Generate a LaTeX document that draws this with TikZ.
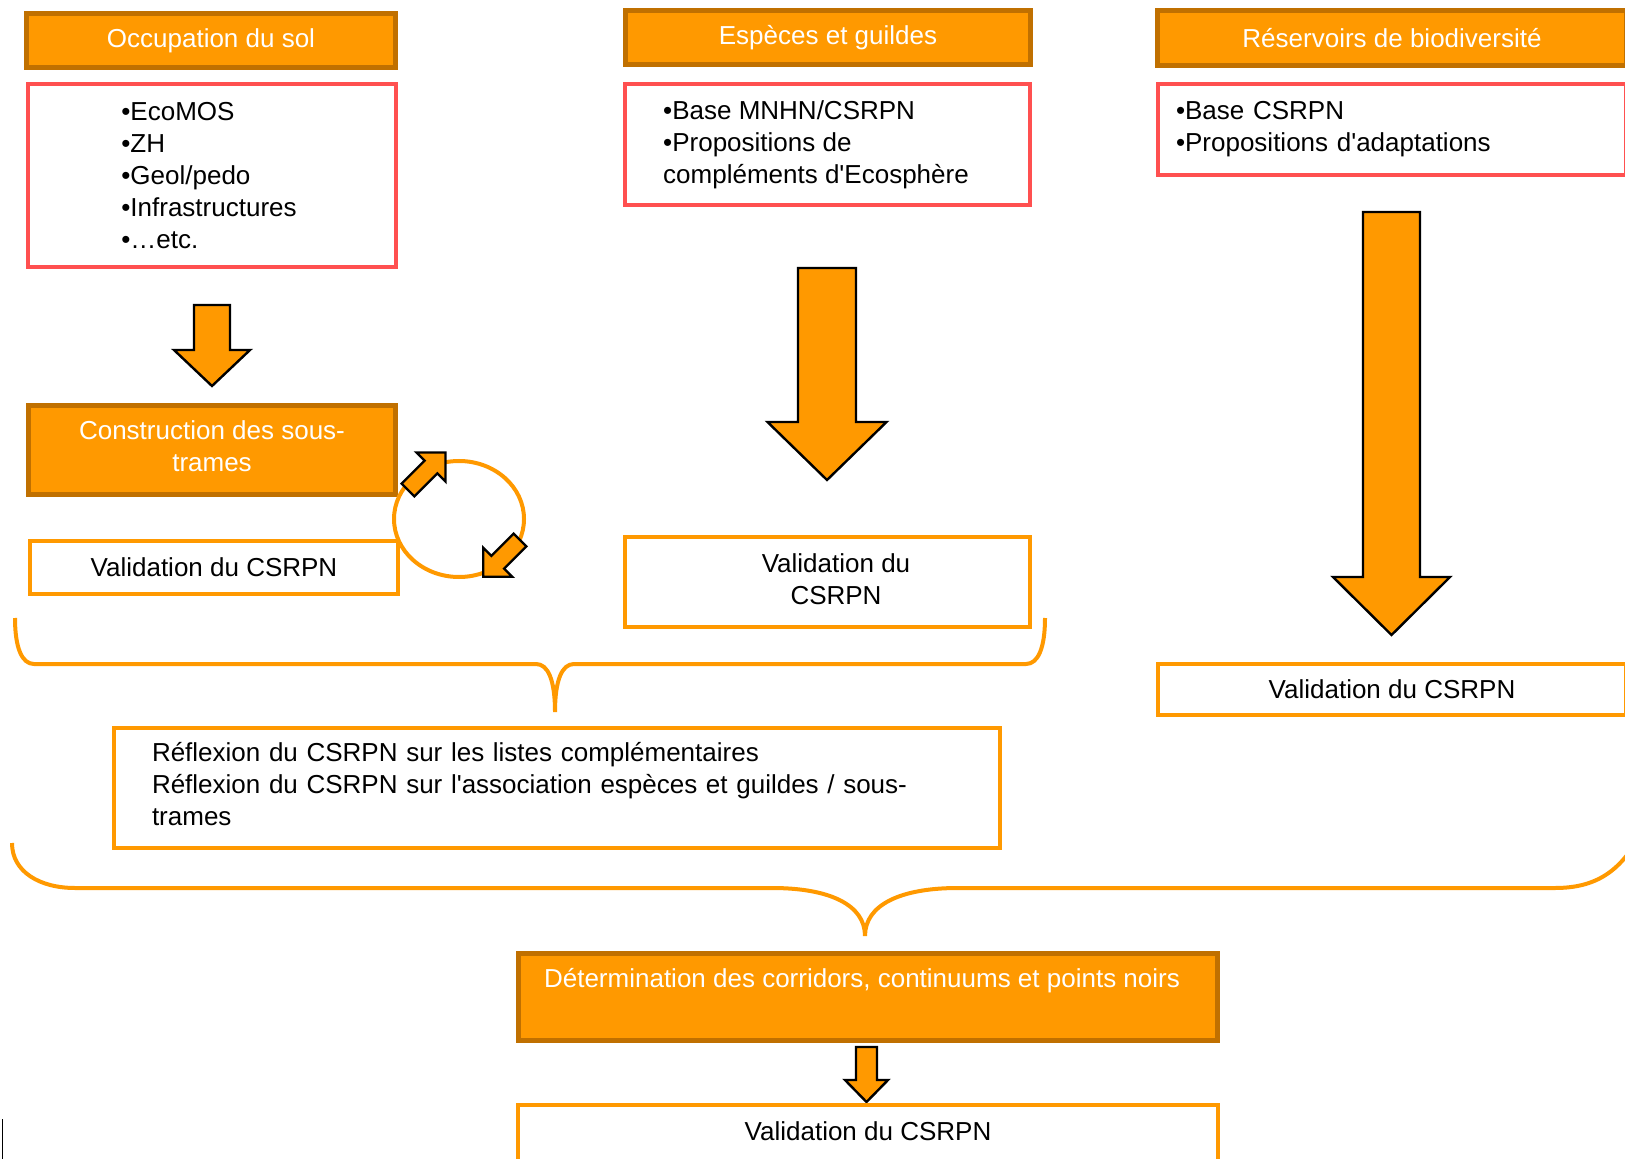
\documentclass[tikz,border=0pt]{standalone}
\usepackage{fontspec}
\setmainfont{Liberation Sans}
\definecolor{orng}{RGB}{255,153,0}
\definecolor{brwn}{RGB}{192,112,0}
\definecolor{rouge}{RGB}{255,80,80}
% block arrow: tail, angle, length, half shaft, half head, head length
\newcommand{\blockarrow}[6]{%
  \draw[fleche, shift={#1}, rotate=#2] (0,-#4) -- ({#3-#6},-#4) -- ({#3-#6},-#5) -- (#3,0)
    -- ({#3-#6},#5) -- ({#3-#6},#4) -- (0,#4) -- cycle;}
\newcommand{\apos}{\textquotesingle}
\begin{document}
\begin{tikzpicture}[x=0.5pt, y=-0.5pt,
    font=\fontsize{13}{16}\selectfont,
    titre/.style={draw=brwn, fill=orng, line width=2.5pt, text=white, align=center, inner sep=0pt},
    liste/.style={draw=rouge, line width=2pt, align=left, inner sep=0pt},
    valid/.style={draw=orng, line width=2pt, align=center, inner sep=0pt},
    accolade/.style={draw=orng, line width=2pt},
    fleche/.style={draw=black, fill=orng, line width=1.2pt, line join=miter}]
  \useasboundingbox (0,0) rectangle (1625,1159);
  \clip (0,0) rectangle (1625,1159);
  % Titles
  \node [titre, minimum width=184.5pt, minimum height=27pt] (occ) at (211,40.5) {Occupation du sol};
  \node [titre, minimum width=202.5pt, minimum height=27pt] (esp) at (828,37.5) {Espèces et guildes};
  \node [titre, minimum width=234.5pt, minimum height=27.5pt] (res) at (1392,38) {Réservoirs de biodiversité};
  % Lists
  \node [liste, minimum width=184pt, minimum height=91.5pt] (lst1) at (212,175.5) {};
  \node [align=left, inner sep=0pt] (lst1txt) at (209,175.5)
    {•EcoMOS\\•ZH\\•Geol/pedo\\•Infrastructures\\•…etc.};
  \node [liste, minimum width=202.5pt, minimum height=60.5pt] (lst2) at (827.5,144.5) {};
  \node [align=left, inner sep=0pt] (lst2txt) at (816,144.5)
    {•Base MNHN/CSRPN\\•Propositions de\\compléments d\apos Ecosphère};
  \node [liste, text width=216pt, inner xsep=9pt, minimum height=45.5pt] (lst3) at (1392,129.5)
    {•Base CSRPN\\•Propositions d\apos adaptations};
  % Arrows
  \blockarrow{(212,305)}{-90}{81}{18}{38}{36}
  \blockarrow{(827,268)}{-90}{212}{29}{59.5}{58}
  \blockarrow{(1391.5,212)}{-90}{423}{28.5}{58.5}{58}
  % Sub-frames and loop
  \node [titre, minimum width=183.5pt, minimum height=44.5pt] (cons) at (212,450) {};
  \node [text=white, align=center] (constxt) at (212,446) {Construction des sous-\\trames};
  \draw [accolade] (459,519) ellipse [x radius=65, y radius=58];
  \blockarrow{(408,490)}{45}{53}{9}{20.5}{20.5}
  \blockarrow{(520,540)}{225}{52}{9}{20.5}{20.5}
  % Validations
  \node [valid, minimum width=184pt, minimum height=26.5pt] (val1) at (214,567.5) {Validation du CSRPN};
  \node [valid, minimum width=202.5pt, minimum height=45pt] (val2) at (827.5,582) {};
  \node [align=center] (val2txt) at (836,579) {Validation du\\CSRPN};
  \node [valid, minimum width=234pt, minimum height=25.5pt] (val3) at (1392,689.5) {Validation du CSRPN};
  % Braces
  \draw [accolade] (15,618) .. controls (15,648) and (22,664) .. (34,664) -- (536,664)
    .. controls (548,664) and (555,680) .. (555,712) .. controls (555,680) and (562,664) .. (574,664)
    -- (1026,664) .. controls (1038,664) and (1045,648) .. (1045,618);
  \node [valid, minimum width=443pt, minimum height=60pt] (refl) at (557,788) {};
  \node [text width=405pt, align=left, inner sep=0pt] (refltxt) at (557,784)
    {Réflexion du CSRPN sur les listes complémentaires\\Réflexion du CSRPN sur l\apos association espèces et guildes / sous-\\trames};
  \draw [accolade] (12,843) .. controls (12,872) and (40,888) .. (75,888) -- (772,888)
    .. controls (830,888) and (865,905) .. (865,936) .. controls (865,905) and (900,888) .. (958,888)
    -- (1555,888) .. controls (1595,888) and (1620,872) .. (1640,835);
  % Result
  \node [titre, minimum width=349.5pt, minimum height=43.5pt] (det) at (868,997) {};
  \node [text=white, anchor=base] (dettxt) at (862,987) {Détermination des corridors, continuums et points noirs};
  \blockarrow{(866.5,1047)}{-90}{55}{10.5}{21.5}{22}
  \node [valid, minimum width=350pt, minimum height=30pt] (val4) at (868,1135) {};
  \node (val4txt) at (868,1131) {Validation du CSRPN};
  \draw [line width=0.5pt] (2,1119) -- (2,1159);
\end{tikzpicture}
\end{document}
